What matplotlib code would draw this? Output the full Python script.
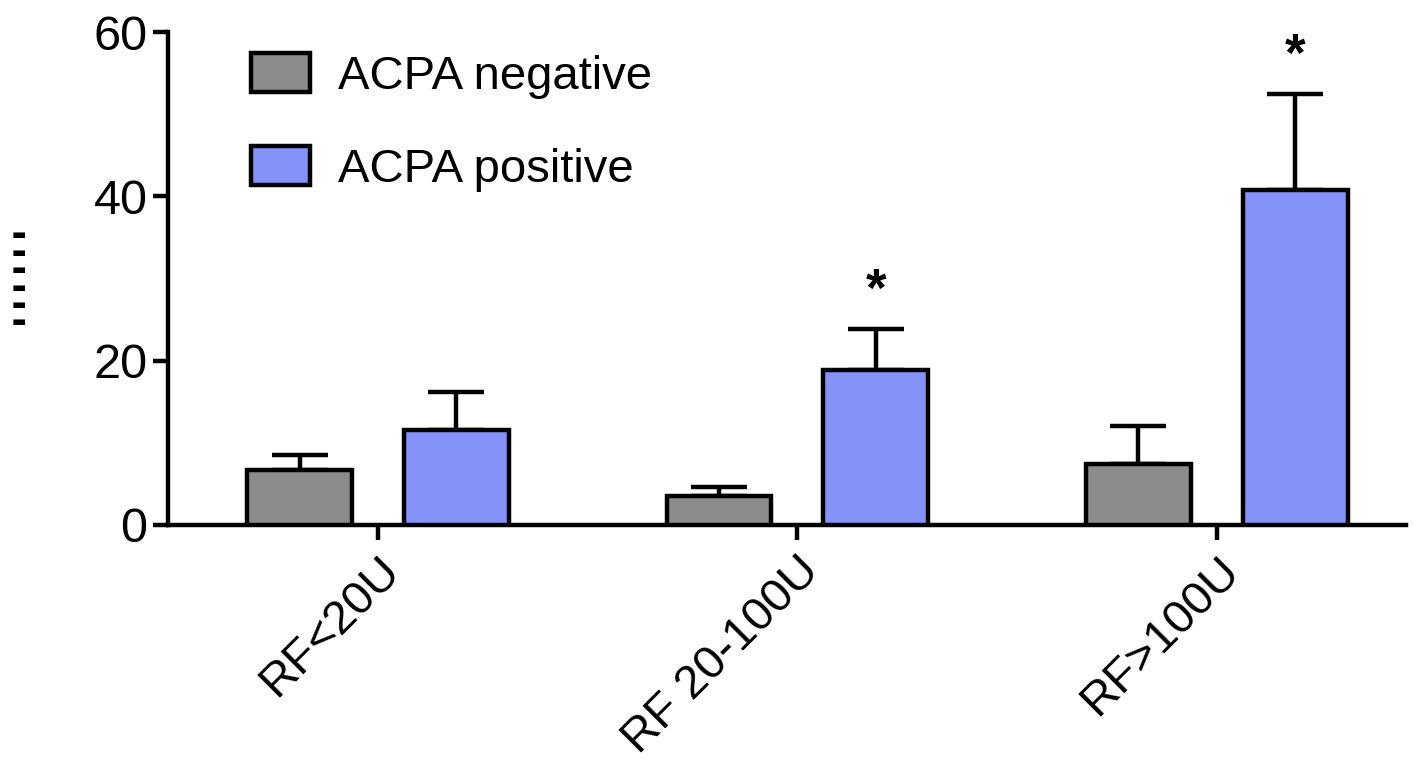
import matplotlib
matplotlib.use("Agg")
import matplotlib.pyplot as plt
import numpy as np
from matplotlib.patches import Patch

plt.rcParams['font.family'] = ['Liberation Sans', 'DejaVu Sans']

categories = ["RF<20U", "RF 20-100U", "RF>100U"]
neg_vals = [6.7, 3.5, 7.4]
neg_err = [1.8, 1.1, 4.6]
pos_vals = [11.6, 18.9, 40.8]
pos_err = [4.6, 4.9, 11.6]
stars = ["", "*", "*"]
series_labels = ["ACPA negative", "ACPA positive"]
colors = ["#8c8c8c", "#8592fa"]

fig = plt.figure(figsize=(14.14, 7.63), dpi=100)
ax = fig.add_axes([0.119, 0.312, 0.875, 0.646])

x = np.arange(len(categories))
w = 0.25
off = 0.187
lw = 3.2
for vals, errs, sign, col in [(neg_vals, neg_err, -1, colors[0]), (pos_vals, pos_err, 1, colors[1])]:
    ax.bar(x + sign * off, vals, width=w, color=col, edgecolor='black', linewidth=lw, zorder=3)
    ax.errorbar(x + sign * off, vals, yerr=[np.zeros(len(vals)), errs], fmt='none',
                ecolor='black', elinewidth=lw, capsize=20, capthick=lw, zorder=2)

for i, s in enumerate(stars):
    if s:
        ax.text(x[i] + off, pos_vals[i] + pos_err[i] + 1.5, s, ha='center', va='bottom',
                fontsize=38, fontweight='bold')

ax.set_xlim(-0.5, 2.45)
ax.set_ylim(0, 60)
ax.set_yticks([0, 20, 40, 60])
ax.set_xticks(x)
ax.set_xticklabels(categories, rotation=45, ha='right', rotation_mode='anchor')
ax.tick_params(axis='both', labelsize=35, width=lw, length=11, direction='out', pad=4)
ax.tick_params(axis='x', labelsize=34, pad=6)
for sp in ['top', 'right']:
    ax.spines[sp].set_visible(False)
for sp in ['left', 'bottom']:
    ax.spines[sp].set_linewidth(lw)

handles = [Patch(facecolor=colors[i], edgecolor='black', linewidth=lw) for i in range(2)]
ax.legend(handles, series_labels, loc='upper left', bbox_to_anchor=(0.04, 1.025), frameon=False,
          fontsize=34, handlelength=1.25, handleheight=0.9, labelspacing=1.0, handletextpad=0.6,
          borderaxespad=0.3)

fig.text(0.0135, 0.635, "\n".join(["\u25AC"] * 6), ha='center', va='center', fontsize=11,
         linespacing=1.2, family=['DejaVu Sans'])

fig.savefig("out.png", dpi=100)
